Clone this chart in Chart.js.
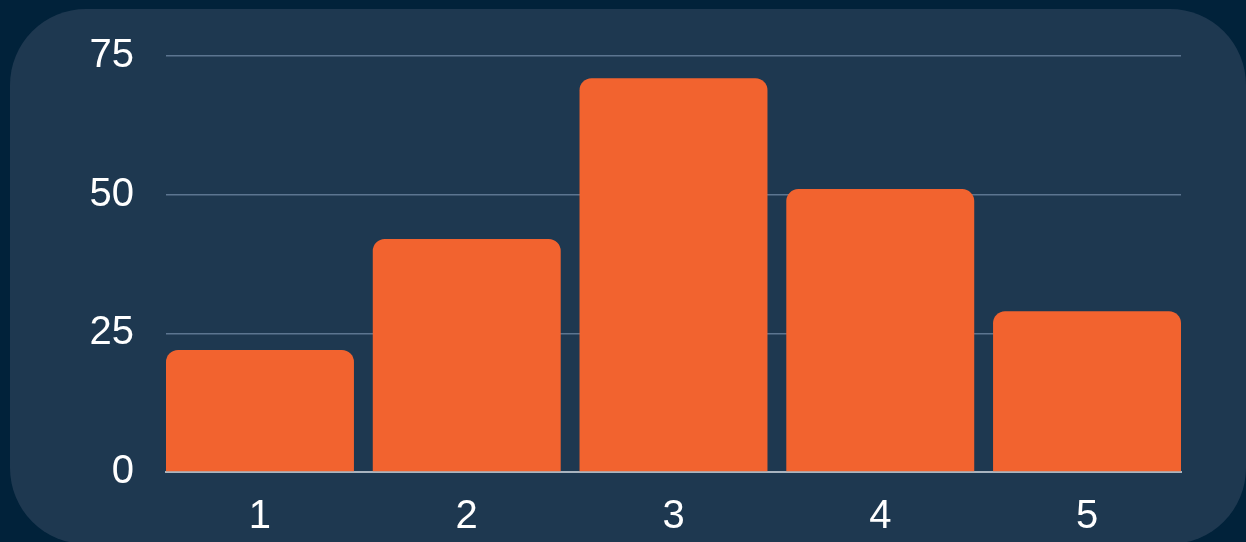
<!DOCTYPE html>
<html lang="en">
<head>
    <meta charset="UTF-8">
    <title>Bar chart</title>
    <script src="https://cdn.jsdelivr.net/npm/chart.js"></script>
    <style>
        html, body { margin: 0; padding: 0; width: 1246px; height: 542px; overflow: hidden; background: #01223a; }
        #panel { position: absolute; left: 10px; top: 9px; width: 1236px; height: 535px; border-radius: 76px; background: #1e3850; }
        #wrap { position: absolute; left: 0; top: 0; width: 1246px; height: 542px; }
    </style>
</head>
<body>
    <div id="panel"></div>
    <div id="wrap"><canvas id="grafico"></canvas></div>
<script>
    const categories = ["1", "2", "3", "4", "5"];
    const values = [22, 42, 71, 51, 29];
    const yTicks = [0, 25, 50, 75];

    // bars fill ~91% of each slot and touch the plot edges
    const barFrac = 0.909;

    const ctx = document.getElementById("grafico").getContext("2d");

    new Chart(ctx, {
        type: "bar",
        data: {
            datasets: [{
                data: values.map((v, i) => ({ x: i + 1, y: v })),
                backgroundColor: "#f2632f",
                borderWidth: 0,
                borderRadius: 12,
                barPercentage: barFrac,
                categoryPercentage: 1
            }]
        },
        options: {
            responsive: true,
            maintainAspectRatio: false,
            animation: false,
            layout: { padding: { left: 0, right: 65, top: 54, bottom: 1 } },
            plugins: { legend: { display: false }, tooltip: { enabled: false } },
            scales: {
                x: {
                    type: "linear",
                    offset: false,
                    min: 1 - barFrac / 2,
                    max: categories.length + barFrac / 2,
                    afterBuildTicks: (scale) => {
                        scale.ticks = categories.map((c, i) => ({ value: i + 1 }));
                    },
                    afterFit: (scale) => { scale.height = 69; },
                    grid: { display: false, drawTicks: false },
                    border: { display: true, color: "#a9b4bf", width: 2 },
                    ticks: {
                        color: "#ffffff",
                        padding: 21,
                        maxRotation: 0,
                        font: { family: "'Liberation Sans', Arial, sans-serif", size: 40 },
                        callback: (v) => categories[Math.round(v) - 1]
                    }
                },
                y: {
                    min: 0,
                    max: 75,
                    afterBuildTicks: (scale) => {
                        scale.ticks = yTicks.map(v => ({ value: v }));
                    },
                    afterFit: (scale) => { scale.width = 166; },
                    grid: {
                        drawTicks: false,
                        color: (c) => c.tick && c.tick.value === 0 ? "rgba(0,0,0,0)" : "#5c7590",
                        lineWidth: 1.6
                    },
                    border: { display: false },
                    ticks: {
                        color: "#ffffff",
                        padding: 32,
                        font: { family: "'Liberation Sans', Arial, sans-serif", size: 40 }
                    }
                }
            }
        }
    });
</script>
</body>
</html>
